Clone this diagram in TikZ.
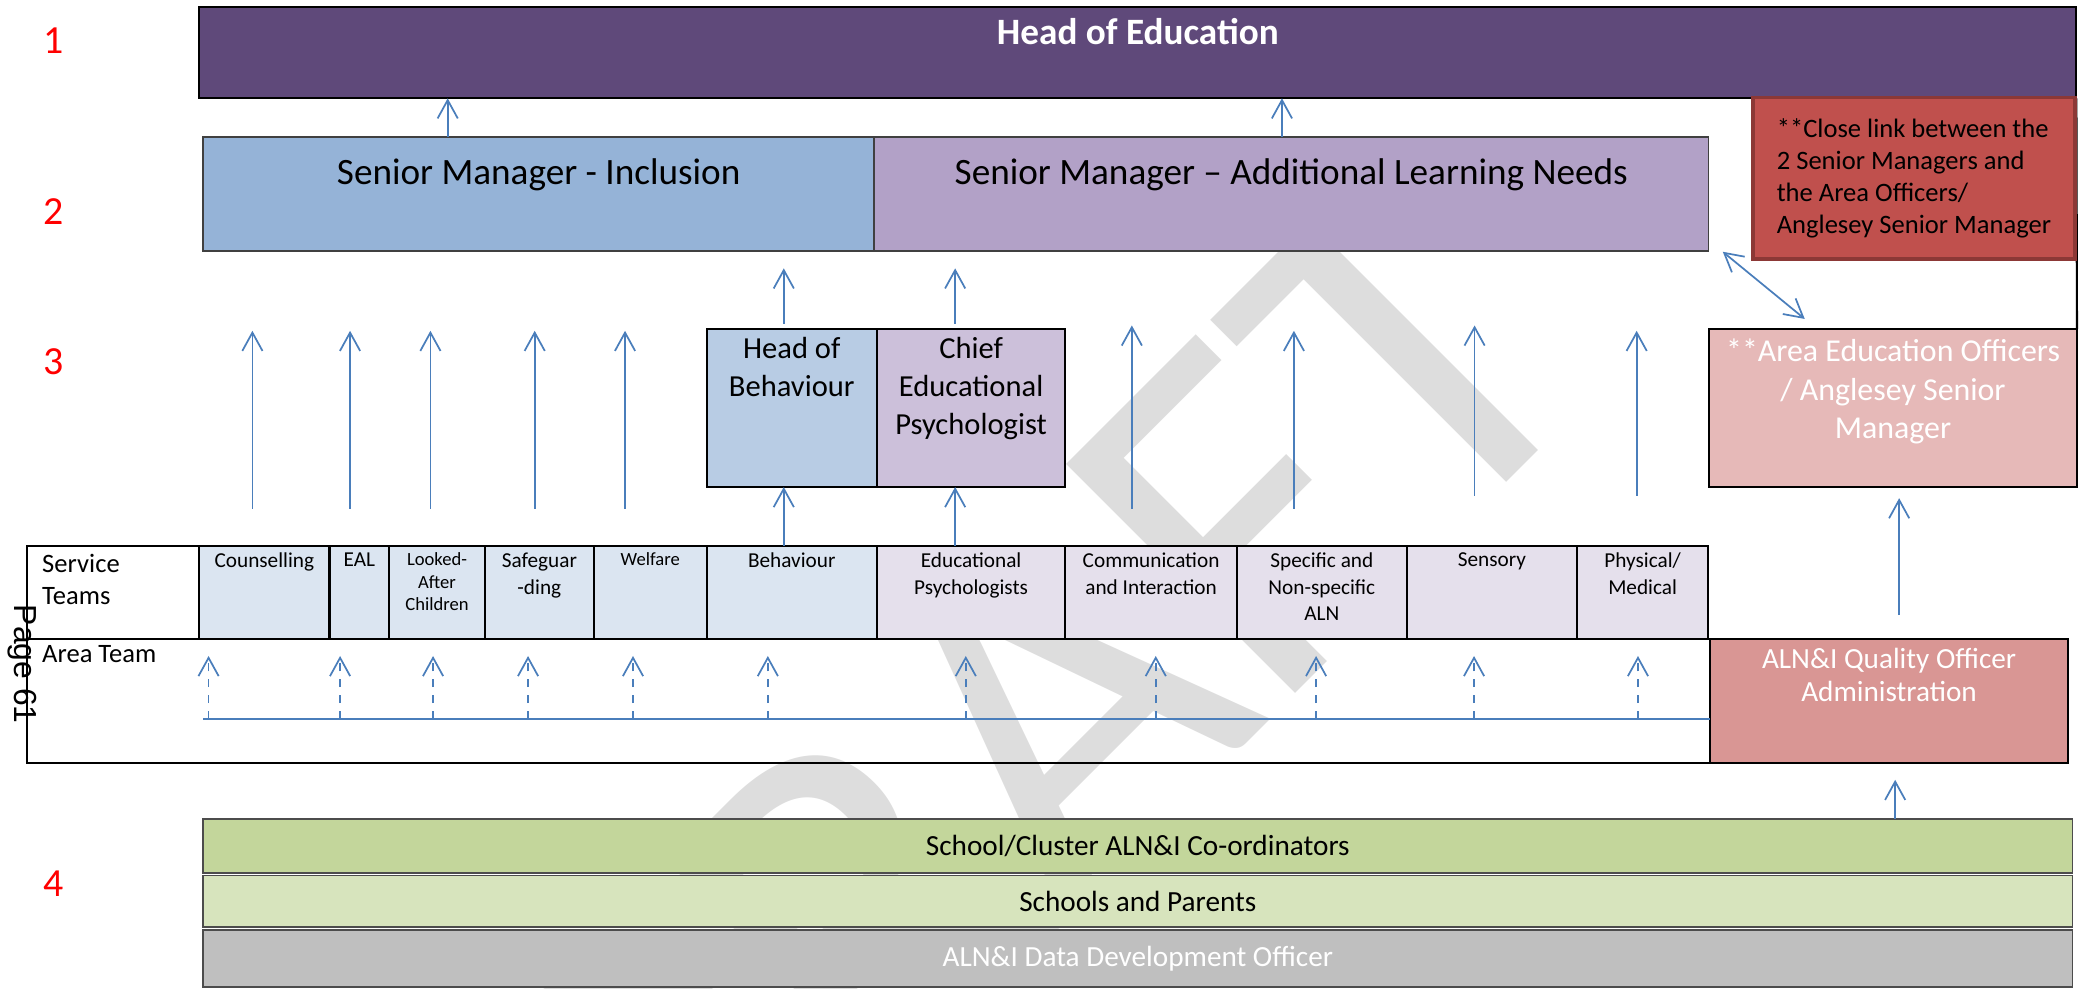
\documentclass[tikz,border=0pt]{standalone}
\usepackage{fontspec}
\setmainfont{Carlito}
\newfontfamily\pagefont{Liberation Sans}
\usetikzlibrary{positioning}
\usetikzlibrary{arrows.meta}

\definecolor{headfill}{HTML}{5F497A}
\definecolor{incfill}{HTML}{95B3D7}
\definecolor{alnfill}{HTML}{B2A1C7}
\definecolor{notefill}{HTML}{C0504D}
\definecolor{notedraw}{HTML}{8C3836}
\definecolor{hobfill}{HTML}{B8CCE4}
\definecolor{cepfill}{HTML}{CCC0DA}
\definecolor{aeofill}{HTML}{E6B9B8}
\definecolor{bluecell}{HTML}{DBE5F1}
\definecolor{lilaccell}{HTML}{E5E0EC}
\definecolor{qofill}{HTML}{D99694}
\definecolor{coordfill}{HTML}{C3D69B}
\definecolor{schoolfill}{HTML}{D7E4BD}
\definecolor{datafill}{HTML}{BFBFBF}
\definecolor{arrowblue}{HTML}{4A7EBB}
\definecolor{numred}{HTML}{FF0000}
\definecolor{wmgray}{HTML}{DDDDDD}

\begin{document}
\begin{tikzpicture}[x=0.5pt,y=-0.5pt,line width=0.8pt,
  >={Straight Barb[length=6.9pt,width=7.6pt]},
  box/.style={draw,inner sep=0pt,outer sep=0pt},
  cell/.style={box,minimum width=#1,minimum height=35pt},
  row/.style={box,draw=black!70,line width=0.6pt,minimum width=703.5pt,font=\fontsize{11}{13}\selectfont},
  toptext/.style={anchor=north,align=center,inner sep=0pt},
  celltext/.style={toptext,yshift=-2.3pt,font=\fontsize{8}{10}\selectfont},
  link/.style={draw=arrowblue,line width=0.65pt},
  uparrow/.style={link,->},
  longup/.style={uparrow,shorten <=13.9pt,shorten >=30pt},
  dashup/.style={uparrow,dashed,shorten >=6.5pt},
  num/.style={text=numred,font=\fontsize{15}{18}\selectfont}]
  \useasboundingbox (0,0) rectangle (1568,744);
  % watermark
  \begin{scope}
    \clip (0,0) rectangle (1568,744);
    \node[rotate=45,text=wmgray,font=\fontsize{190}{190}\selectfont] (wm) at (765,560) {DRAFT};
  \end{scope}
  % level 1 and 2
  \node[box,fill=headfill,minimum width=706.5pt,minimum height=34.5pt,
    label={[toptext,yshift=-4pt,text=white,font=\bfseries\fontsize{14}{17}\selectfont]north:Head of Education}] (head) at (856.5,39.5) {};
  \node[box,draw=black!75,line width=0.6pt,fill=incfill,minimum width=252.5pt,minimum height=43pt,
    label={[toptext,yshift=-7.75pt,font=\fontsize{14}{17}\selectfont]north:Senior Manager - Inclusion}] (inc) at (405.5,146) {};
  \node[box,draw=black!75,line width=0.6pt,fill=alnfill,minimum width=314pt,minimum height=43pt,right=0pt of inc,
    label={[toptext,yshift=-7.75pt,font=\fontsize{14}{17}\selectfont]north:Senior Manager – Additional Learning Needs}] (aln) {};
  % level 3
  \node[box,fill=hobfill,minimum width=64pt,minimum height=59.45pt,
    label={[toptext,yshift=-2.75pt,font=\fontsize{11.5}{14.3}\selectfont]north:Head of\\Behaviour}] (hob) at (596,307.15) {};
  \node[box,fill=cepfill,minimum width=71pt,minimum height=59.45pt,right=0pt of hob,
    label={[toptext,yshift=-2.75pt,font=\fontsize{11.5}{14.3}\selectfont]north:Chief\\Educational\\Psychologist}] (cep) {};
  \node[box,fill=aeofill,minimum width=138.45pt,minimum height=59.45pt,
    label={[toptext,yshift=-3.2pt,text=white,font=\fontsize{12}{14.6}\selectfont]north:**Area Education Officers\\/ Anglesey Senior\\Manager}] (aeo) at (1425,307.15) {};
  \draw (head.south east) -- (aeo.north east);
  \node[box,draw=notedraw,line width=1.3pt,fill=notefill,minimum width=121.25pt,minimum height=60.75pt,
    align=left,font=\fontsize{10}{12}\selectfont] (note) at (1440.75,134.25)
    {**Close link between the\\2 Senior Managers and\\the Area Officers/\\Anglesey Senior Manager};
  % service teams
  \node[cell=65pt,fill=white,
    label={[toptext,anchor=north west,xshift=5.5pt,yshift=-2.7pt,align=left,font=\fontsize{10}{12}\selectfont]north west:Service\\Teams}] (svc) at (85,445.8) {};
  \node[cell=49pt,fill=bluecell,right=0pt of svc,label={[celltext]north:Counselling}] (couns) {};
  \node[cell=22.5pt,fill=bluecell,right=0pt of couns,label={[celltext]north:EAL}] (eal) {};
  \node[cell=36pt,fill=bluecell,right=0pt of eal,label={[celltext,font=\fontsize{7}{8.5}\selectfont]north:Looked-\\After\\Children}] (lac) {};
  \node[cell=41pt,fill=bluecell,right=0pt of lac,label={[celltext]north:Safeguar\\-ding}] (safe) {};
  \node[cell=42.5pt,fill=bluecell,right=0pt of safe,label={[celltext,font=\fontsize{7}{8.5}\selectfont]north:Welfare}] (welf) {};
  \node[cell=64pt,fill=bluecell,right=0pt of welf,label={[celltext]north:Behaviour}] (beh) {};
  \node[cell=71pt,fill=lilaccell,right=0pt of beh,label={[celltext]north:Educational\\Psychologists}] (edp) {};
  \node[cell=64.5pt,fill=lilaccell,right=0pt of edp,label={[celltext]north:Communication\\and Interaction}] (comm) {};
  \node[cell=64pt,fill=lilaccell,right=0pt of comm,label={[celltext]north:Specific and\\Non-specific\\ALN}] (spec) {};
  \node[cell=64pt,fill=lilaccell,right=0pt of spec,label={[celltext]north:Sensory}] (sens) {};
  \node[cell=49.5pt,fill=lilaccell,right=0pt of sens,label={[celltext]north:Physical/\\Medical}] (phys) {};
  % area team
  \node[box,minimum width=768.5pt,minimum height=46.85pt,
    label={[toptext,anchor=north west,xshift=5.5pt,yshift=-2.2pt,align=left,font=\fontsize{10}{12}\selectfont]north west:Area Team}] (area) at (788.5,527.65) {};
  \node[box,fill=qofill,minimum width=135pt,minimum height=46.85pt,
    label={[toptext,yshift=-3.25pt,text=white,font=\fontsize{11}{12.5}\selectfont]north:ALN\&I Quality Officer\\Administration}] (qo) at (1422,527.65) {};
  % level 4
  \node[row,fill=coordfill,minimum height=20.25pt] (coord) at (856.5,636.75) {School/Cluster ALN\&I Co-ordinators};
  \node[row,fill=schoolfill,minimum height=19.3pt,below=1pt of coord] (school) {Schools and Parents};
  \node[row,fill=datafill,text=white,minimum height=21.5pt,below=1.2pt of school] (data) {ALN\&I Data Development Officer};
  % arrows
  \draw[uparrow] ([xshift=-34.25pt]inc.north) -- ([xshift=-34.25pt]inc.north |- head.south);
  \draw[uparrow] ([xshift=-3.5pt]aln.north) -- ([xshift=-3.5pt]aln.north |- head.south);
  \draw[uparrow,shorten <=2pt,shorten >=6.5pt] ([xshift=-3pt]hob.north) -- ([xshift=-3pt]hob.north |- inc.south);
  \draw[uparrow,shorten <=2pt,shorten >=6.5pt] ([xshift=-6pt]cep.north) -- ([xshift=-6pt]cep.north |- aln.south);
  \draw[uparrow] ([xshift=-3pt]beh.north) -- ([xshift=-3pt]hob.south);
  \draw[uparrow] ([xshift=-6pt]edp.north) -- ([xshift=-6pt]cep.south);
  \draw[longup] ([xshift=-4.5pt]couns.north) -- ([xshift=-4.5pt]couns.north |- inc.south);
  \draw[longup] ([xshift=-3.5pt]eal.north) -- ([xshift=-3.5pt]eal.north |- inc.south);
  \draw[longup] ([xshift=-2.5pt]lac.north) -- ([xshift=-2.5pt]lac.north |- inc.south);
  \draw[longup] ([xshift=-1.75pt]safe.north) -- ([xshift=-1.75pt]safe.north |- inc.south);
  \draw[longup] ([xshift=-9.5pt]welf.north) -- ([xshift=-9.5pt]welf.north |- inc.south);
  \draw[longup,shorten >=28pt] ([xshift=-7.25pt]comm.north) -- ([xshift=-7.25pt]comm.north |- aln.south);
  \draw[longup] ([xshift=-10.5pt]spec.north) -- ([xshift=-10.5pt]spec.north |- aln.south);
  \draw[longup,shorten <=18.9pt,shorten >=28pt] ([xshift=-6.5pt]sens.north) -- ([xshift=-6.5pt]sens.north |- aln.south);
  \draw[longup,shorten <=18.9pt] ([xshift=-2.25pt]phys.north) -- ([xshift=-2.25pt]phys.north |- aln.south);
  \draw[uparrow,<->] ([xshift=5.4pt,yshift=-0.25pt]aln.south east) -- ([xshift=36pt,yshift=3.8pt]aeo.north west);
  \draw[uparrow,shorten <=8.9pt,shorten >=4.2pt] ([xshift=3.8pt]qo.north) -- ([xshift=3.8pt]qo.north |- aeo.south);
  \draw[uparrow,shorten >=6.25pt] ([xshift=2.3pt]qo.south |- coord.north) -- ([xshift=2.3pt]qo.south);
  % area team links
  \coordinate (hub) at (153,541.3);
  \draw[link] (hub) -- (hub -| qo.west);
  \draw[dashup] ([xshift=-21pt]couns.south |- hub) -- ([xshift=-21pt]couns.south);
  \draw[dashup] ([xshift=-7.25pt]eal.south |- hub) -- ([xshift=-7.25pt]eal.south);
  \draw[dashup] ([xshift=-1.5pt]lac.south |- hub) -- ([xshift=-1.5pt]lac.south);
  \draw[dashup] ([xshift=-4.25pt]safe.south |- hub) -- ([xshift=-4.25pt]safe.south);
  \draw[dashup] ([xshift=-6.5pt]welf.south |- hub) -- ([xshift=-6.5pt]welf.south);
  \draw[dashup] ([xshift=-9pt]beh.south |- hub) -- ([xshift=-9pt]beh.south);
  \draw[dashup] ([xshift=-2pt]edp.south |- hub) -- ([xshift=-2pt]edp.south);
  \draw[dashup] ([xshift=1.75pt]comm.south |- hub) -- ([xshift=1.75pt]comm.south);
  \draw[dashup] ([xshift=-2.15pt]spec.south |- hub) -- ([xshift=-2.15pt]spec.south);
  \draw[dashup] ([xshift=-6.7pt]sens.south |- hub) -- ([xshift=-6.7pt]sens.south);
  \draw[dashup] ([xshift=-1.75pt]phys.south |- hub) -- ([xshift=-1.75pt]phys.south);
  % level numbers
  \node[num] (n1) at (40,30.6) {1};
  \node[num] (n2) at (40,159) {2};
  \node[num] (n3) at (40,272) {3};
  \node[num] (n4) at (40,665) {4};
  \node[rotate=-90,font=\pagefont\fontsize{12}{14}\selectfont] (page) at (16.7,500) {Page 61};
\end{tikzpicture}
\end{document}
